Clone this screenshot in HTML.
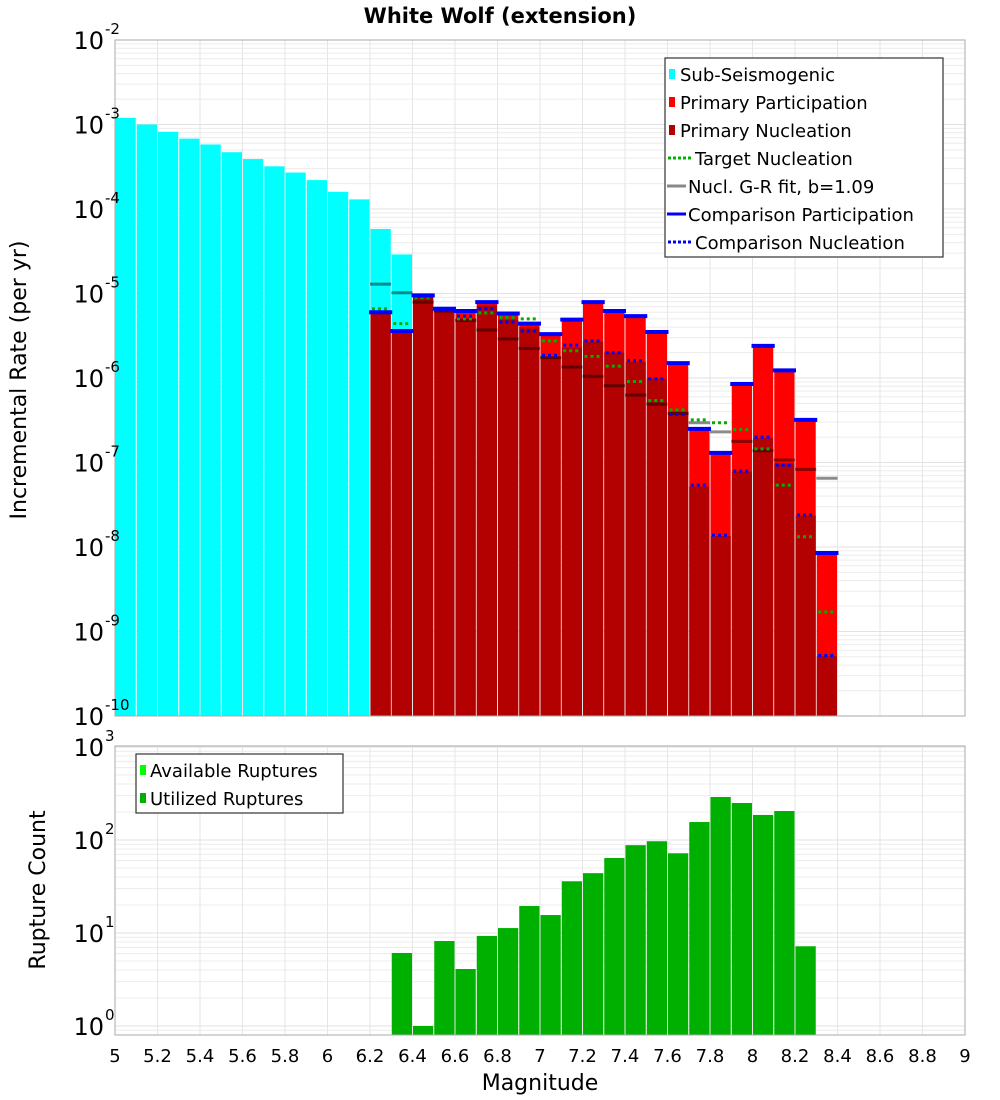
<!DOCTYPE html>
<html><head><meta charset="utf-8"><style>
html,body{margin:0;padding:0;background:#fff;}
svg{display:block;font-family:"DejaVu Sans","Liberation Sans",sans-serif;}
</style></head><body>
<svg id="chart" width="1000" height="1100" viewBox="0 0 1000 1100" xmlns="http://www.w3.org/2000/svg">
<text x="500" y="23" text-anchor="middle" font-size="21" font-weight="bold">White Wolf (extension)</text>
<g id="topPlot"></g>
<g id="botPlot"></g>
<text transform="translate(26,380) rotate(-90)" text-anchor="middle" font-size="22">Incremental Rate (per yr)</text>
<text transform="translate(45,890) rotate(-90)" text-anchor="middle" font-size="22">Rupture Count</text>
<text x="540" y="1090" text-anchor="middle" font-size="22">Magnitude</text>
</svg>
<script>
// ---- data ----
const subMags = [5.05,5.15,5.25,5.35,5.45,5.55,5.65,5.75,5.85,5.95,6.05,6.15,6.25,6.35];
const subRates = [1.2e-3,1.0e-3,8.2e-4,6.8e-4,5.8e-4,4.7e-4,3.9e-4,3.2e-4,2.7e-4,2.2e-4,1.6e-4,1.3e-4,5.8e-5,2.9e-5];
const supMags = [6.25,6.35,6.45,6.55,6.65,6.75,6.85,6.95,7.05,7.15,7.25,7.35,7.45,7.55,7.65,7.75,7.85,7.95,8.05,8.15,8.25,8.35];
const partRates = [6.0e-6,3.6e-6,9.5e-6,6.6e-6,6.2e-6,7.9e-6,5.8e-6,4.4e-6,3.3e-6,4.9e-6,7.9e-6,6.2e-6,5.4e-6,3.5e-6,1.5e-6,2.5e-7,1.3e-7,8.5e-7,2.4e-6,1.23e-6,3.2e-7,8.5e-9];
const nuclRates = [6.0e-6,3.6e-6,9.1e-6,6.3e-6,5.1e-6,7.2e-6,4.9e-6,4.0e-6,1.8e-6,2.3e-6,2.7e-6,2.0e-6,1.55e-6,9.8e-7,4.0e-7,5.2e-8,1.35e-8,7.8e-8,1.95e-7,9.8e-8,2.35e-8,5.1e-10];
const targetRates = [6.6e-6,4.4e-6,8.9e-6,6.5e-6,5.0e-6,5.9e-6,5.2e-6,5.0e-6,2.75e-6,2.1e-6,1.8e-6,1.38e-6,9.1e-7,5.4e-7,4.2e-7,3.2e-7,2.95e-7,2.45e-7,1.45e-7,5.4e-8,1.32e-8,1.7e-9];
const compNuclRates = [6.0e-6,3.6e-6,9.3e-6,6.3e-6,5.4e-6,6.6e-6,4.6e-6,3.6e-6,1.86e-6,2.45e-6,2.75e-6,2.0e-6,1.6e-6,9.8e-7,3.7e-7,5.4e-8,1.38e-8,7.9e-8,2.0e-7,9.3e-8,2.4e-8,5.2e-10];
const grRates = [1.29e-5,1.02e-5,7.9e-6,6.2e-6,4.8e-6,3.7e-6,2.9e-6,2.24e-6,1.74e-6,1.35e-6,1.05e-6,8.1e-7,6.3e-7,4.9e-7,3.8e-7,2.95e-7,2.3e-7,1.78e-7,1.38e-7,1.07e-7,8.3e-8,6.5e-8];
const countMags = [6.35,6.45,6.55,6.65,6.75,6.85,6.95,7.05,7.15,7.25,7.35,7.45,7.55,7.65,7.75,7.85,7.95,8.05,8.15,8.25];
const counts = [6.1,1,8.2,4.1,9.3,11.3,19.5,15.6,36,44,64,88,97,72,156,290,250,186,205,7.2];
const xTicks = ["5","5.2","5.4","5.6","5.8","6","6.2","6.4","6.6","6.8","7","7.2","7.4","7.6","7.8","8","8.2","8.4","8.6","8.8","9"];
const topExps = [-2,-3,-4,-5,-6,-7,-8,-9,-10];
const botExps = [3,2,1,0];

// ---- axes ----
const X0=115, X1=965, MMIN=5, MMAX=9;
const x = m => X0 + (m-MMIN)/(MMAX-MMIN)*(X1-X0);
const BW = (X1-X0)/40;
const T0=40, T1=716;
const yT = v => T0 + (-2 - Math.log10(v))/8*(T1-T0);
const B0=746, B1=1035, DEC=93, BREF=1026;
const yB = v => BREF - DEC*Math.log10(v);
const NS="http://www.w3.org/2000/svg";
function mk(parent, tag, attrs){const e=document.createElementNS(NS,tag);for(const k in attrs)e.setAttribute(k,attrs[k]);parent.appendChild(e);return e;}
const topG=document.getElementById('topPlot'), botG=document.getElementById('botPlot');

function grid(g, yTop, yBot, decFn, decs){
  for(const d of decs){
    for(let k=1;k<10;k++){
      const yy = decFn(d,k);
      if(yy<yTop-0.5||yy>yBot+0.5) continue;
      const l=mk(g,'line',{x1:X0,x2:X1,y1:yy,y2:yy,stroke:k===1?'#e2e2e2':'#ececec','stroke-width':1});
      
      
    }
  }
  for(let i=0;i<=20;i++){
    const xx=x(5+i*0.2);
    const l=mk(g,'line',{x1:xx,x2:xx,y1:yTop,y2:yBot,stroke:'#e6e6e6','stroke-width':1});
    
    
  }
}
grid(topG,T0,T1,(d,k)=>yT(k*Math.pow(10,d)),[-10,-9,-8,-7,-6,-5,-4,-3,-2]);
grid(botG,B0,B1,(d,k)=>yB(k*Math.pow(10,d)),[-1,0,1,2,3]);

function bar(g,m,v,yfn,base,fill,name){
  const yy=yfn(v);
  const r=mk(g,'rect',{x:x(m)-BW/2+0.5,y:yy,width:BW-1,height:base-yy,fill:fill});
  
  
}
subMags.forEach((m,i)=>bar(topG,m,subRates[i],yT,T1,'#00ffff','bar-sub-seismogenic'));
supMags.forEach((m,i)=>bar(topG,m,partRates[i],yT,T1,'#ff0000','bar-primary-participation'));
supMags.forEach((m,i)=>bar(topG,m,nuclRates[i],yT,T1,'#b30000','bar-primary-nucleation'));
function hline(g,m,v,color,w,dash,name,ext){
  const yy=yT(v);
  const a={x1:x(m)-BW/2-(ext||0),x2:x(m)+BW/2+(ext||0),y1:yy,y2:yy,stroke:color,'stroke-width':w};
  if(dash) a['stroke-dasharray']=dash;
  const l=mk(g,'line',a);
  
  
}
supMags.forEach((m,i)=>hline(topG,m,grRates[i],'rgba(0,0,0,0.45)',3,null,'gr-fit-segment',0));
supMags.forEach((m,i)=>hline(topG,m,targetRates[i],'#00b000',3,'3,3','target-nucleation-segment',-2));
supMags.forEach((m,i)=>hline(topG,m,compNuclRates[i],'#0000ff',3,'3,3','comparison-nucleation-segment',-2));
supMags.forEach((m,i)=>hline(topG,m,partRates[i],'#0000ff',4,null,'comparison-participation-segment',1));
mk(topG,'rect',{x:X0,y:T0,width:X1-X0,height:T1-T0,fill:'none',stroke:'#aaaaaa','stroke-width':1});

countMags.forEach((m,i)=>bar(botG,m,counts[i],yB,B1,'#00b000','bar-utilized-ruptures'));
mk(botG,'rect',{x:X0,y:B0,width:X1-X0,height:B1-B0,fill:'none',stroke:'#aaaaaa','stroke-width':1});

function powLabel(g,yy,e,name){
  const t=mk(g,'text',{x:104,y:yy+9,'text-anchor':'end','font-size':24});
  t.textContent='10';
  
  
  const s=mk(g,'text',{x:105,y:yy-6,'font-size':15});
  s.textContent=String(e);
  
  
}
topExps.forEach(e=>powLabel(topG,yT(Math.pow(10,e)),e,'y-tick-label-rate'));
botExps.forEach(e=>powLabel(botG,yB(Math.pow(10,e)),e,'y-tick-label-count'));
xTicks.forEach((s,i)=>{
  const t=mk(botG,'text',{x:x(5+i*0.2),y:1062,'text-anchor':'middle','font-size':18});
  t.textContent=s;
  
  
});

const lg=mk(topG,'g',{});


mk(lg,'rect',{x:665,y:58,width:278,height:199,fill:'#fff',stroke:'#333','stroke-width':1.2});
const items=[["sq","#00ffff","Sub-Seismogenic"],["sq","#ff0000","Primary Participation"],["sq","#b30000","Primary Nucleation"],["dot","#00b000"," Target Nucleation"],["ln","#888888","Nucl. G-R fit, b=1.09"],["ln","#0000ff","Comparison Participation"],["dot","#0000ff"," Comparison Nucleation"]];
items.forEach((it,i)=>{
  const yy=74+i*28;
  const g=mk(lg,'g',{});
  
  
  let tx=680;
  if(it[0]==='sq'){mk(g,'rect',{x:669,y:yy-5,width:6,height:10,fill:it[1]});}
  else if(it[0]==='dot'){mk(g,'line',{x1:668,x2:693,y1:yy,y2:yy,stroke:it[1],'stroke-width':3,'stroke-dasharray':'3,2'});tx=695;}
  else {mk(g,'line',{x1:667,x2:686,y1:yy,y2:yy,stroke:it[1],'stroke-width':3});tx=688;}
  const t=mk(g,'text',{x:tx,y:yy+7,'font-size':18});
  t.textContent=it[2];
});
const lb=mk(botG,'g',{});


mk(lb,'rect',{x:136,y:754,width:207,height:59,fill:'#fff',stroke:'#333','stroke-width':1.2});
[["#00ff00","Available Ruptures"],["#00b000","Utilized Ruptures"]].forEach((it,i)=>{
  const yy=770+i*28;
  const g=mk(lb,'g',{});
  
  
  mk(g,'rect',{x:140,y:yy-5,width:6,height:10,fill:it[0]});
  const t=mk(g,'text',{x:150,y:yy+7,'font-size':18});
  t.textContent=it[1];
});
</script>
</body></html>
